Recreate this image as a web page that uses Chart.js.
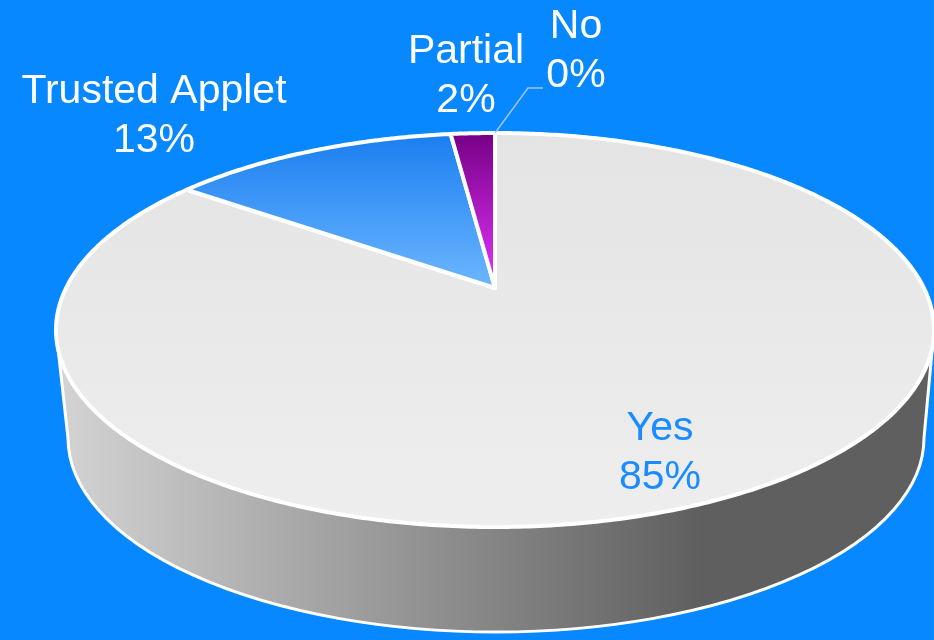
<!DOCTYPE html>
<html>
<head>
<meta charset="utf-8">
<script src="https://cdn.jsdelivr.net/npm/chart.js@4.4.1/dist/chart.umd.min.js"></script>
<style>
  html, body { margin: 0; padding: 0; background: #0788fe; }
  #wrap { width: 934px; height: 640px; position: relative; }
  canvas { display: block; }
</style>
</head>
<body>
<div id="wrap"><canvas id="chart" width="934" height="640"></canvas></div>
<script>
// Survey answers, clockwise from 12 o'clock
const categories = ['Yes', 'Trusted Applet', 'Partial', 'No'];
const shares = [85, 13, 2, 0];

// Top face fills, vertical gradient [top stop, bottom stop]
const faceStops = [
  ['#e4e4e4', '#eeeeee'],
  ['#1a7ef0', '#6cb6ff'],
  ['#760086', '#e534fc'],
  ['#9a9a9a', '#cfcfcf']
];
// Side wall fills, horizontal gradient [left stop, right stop]
const sideStops = [
  ['#d4d4d4', '#5f5f5f'],
  ['#2a6cc0', '#10407a'],
  ['#7a2090', '#40104a'],
  ['#909090', '#505050']
];

// Tilted disc seen in perspective: outline ellipse of the top face,
// projected centre (apex) height, and the base ellipse of the wall
const DISC = { cx: 495, cy: 330, rx: 439, ry: 197, apexY: 288 };
const BASE = { cx: 496, cy: 438, rx: 428, ry: 194 };

// Label placement (first-line baseline) and colours
const labelLayout = [
  { x: 660, y: 440, color: '#1a8cff' },
  { x: 154, y: 103, color: '#ffffff' },
  { x: 466, y: 63,  color: '#ffffff' },
  { x: 576, y: 38,  color: '#ffffff', leader: [[528, 88], [543, 88]] }
];
const LABEL_FONT = '41px "Liberation Sans", Arial, sans-serif';
const LINE_GAP = 49;

const TAU = Math.PI * 2;
const total = shares.reduce((a, b) => a + b, 0);
const percentText = shares.map(v => Math.round(v / total * 100) + '%');

// Perspective of the unit disc: X = cx + A*u/w, Y = apexY + B*v/w, w = 1 + K*v
const K = -(DISC.cy - DISC.apexY) / DISC.ry;
const B = DISC.ry * (1 - K * K);
const A = DISC.rx * Math.sqrt(1 - K * K);

function projectUnit(u, v) {
  const w = 1 + K * v;
  return [DISC.cx + A * u / w, DISC.apexY + B * v / w];
}
function projectAngle(theta) {
  return projectUnit(Math.cos(theta), Math.sin(theta));
}
function ellipseParam(p) {
  return Math.atan2((p[1] - DISC.cy) / DISC.ry, (p[0] - DISC.cx) / DISC.rx);
}

function faceGradient(context) {
  const i = context.dataIndex;
  const ctx = context.chart.ctx;
  const bottom = i === 0 ? DISC.cy + DISC.ry : DISC.apexY;
  const g = ctx.createLinearGradient(0, DISC.cy - DISC.ry, 0, bottom);
  g.addColorStop(0, faceStops[i][0]);
  g.addColorStop(1, faceStops[i][1]);
  return g;
}

// Route the pie's path calls through the perspective projection
function installProjection(ctx, arc) {
  const saved = { arc: ctx.arc, lineTo: ctx.lineTo, moveTo: ctx.moveTo };
  const R = arc.outerRadius, ox = arc.x, oy = arc.y;
  const proj = (px, py) => projectUnit((px - ox) / R, (py - oy) / R);
  ctx.moveTo = function (x, y) { const p = proj(x, y); saved.moveTo.call(ctx, p[0], p[1]); };
  ctx.lineTo = function (x, y) { const p = proj(x, y); saved.lineTo.call(ctx, p[0], p[1]); };
  ctx.arc = function (x, y, r, a0, a1, ccw) {
    let sweep = a1 - a0;
    if (!ccw) {
      if (sweep >= TAU) sweep = TAU; else while (sweep < 0) sweep += TAU;
    } else {
      if (-sweep >= TAU) sweep = -TAU; else while (sweep > 0) sweep -= TAU;
    }
    const n = Math.max(2, Math.ceil(Math.abs(sweep) / 0.01));
    for (let s = 0; s <= n; s++) {
      const t = a0 + sweep * s / n;
      const p = proj(x + r * Math.cos(t), y + r * Math.sin(t));
      saved.lineTo.call(ctx, p[0], p[1]);
    }
  };
  return saved;
}

let savedPath = null;

const tiltPlugin = {
  id: 'tilt',
  beforeDatasetsDraw(chart) {
    const ctx = chart.ctx;
    const arcs = chart.getDatasetMeta(0).data;

    // Side wall: front part (ellipse parameter 0..PI) of each slice
    arcs.forEach((arc, i) => {
      if (arc.endAngle - arc.startAngle <= 0) return;
      const s = ellipseParam(projectAngle(arc.startAngle));
      let e = ellipseParam(projectAngle(arc.endAngle));
      while (e <= s) e += TAU;
      [[0, Math.PI], [TAU, TAU + Math.PI], [-TAU, -Math.PI]].forEach(([f0, f1]) => {
        const lo = Math.max(s, f0), hi = Math.min(e, f1);
        if (hi <= lo) return;
        const g = ctx.createLinearGradient(DISC.cx - DISC.rx, 0, DISC.cx + DISC.rx, 0);
        g.addColorStop(0, sideStops[i][0]);
        g.addColorStop(0.735, sideStops[i][1]);
        g.addColorStop(1, sideStops[i][1]);
        ctx.save();
        ctx.beginPath();
        ctx.ellipse(DISC.cx, DISC.cy, DISC.rx, DISC.ry, 0, lo, hi, false);
        ctx.lineTo(BASE.cx + BASE.rx * Math.cos(hi), BASE.cy + BASE.ry * Math.sin(hi));
        ctx.ellipse(BASE.cx, BASE.cy, BASE.rx, BASE.ry, 0, hi, lo, true);
        ctx.closePath();
        ctx.fillStyle = g;
        ctx.fill();
        ctx.restore();
      });
    });

    // Outline of the wall
    ctx.save();
    ctx.beginPath();
    ctx.moveTo(DISC.cx + DISC.rx, DISC.cy);
    ctx.lineTo(BASE.cx + BASE.rx, BASE.cy);
    ctx.ellipse(BASE.cx, BASE.cy, BASE.rx, BASE.ry, 0, 0, Math.PI, false);
    ctx.lineTo(DISC.cx - DISC.rx, DISC.cy);
    ctx.strokeStyle = '#ffffff';
    ctx.lineWidth = 3;
    ctx.lineJoin = 'round';
    ctx.stroke();
    ctx.restore();

    // The pie controller then draws the top face through the projection
    savedPath = installProjection(ctx, arcs[0]);
  },
  afterDatasetsDraw(chart) {
    const ctx = chart.ctx;
    if (savedPath) {
      ctx.arc = savedPath.arc;
      ctx.lineTo = savedPath.lineTo;
      ctx.moveTo = savedPath.moveTo;
      savedPath = null;
    }
  },
  afterDraw(chart) {
    const ctx = chart.ctx;
    const arcs = chart.getDatasetMeta(0).data;
    ctx.save();
    ctx.font = LABEL_FONT;
    ctx.textAlign = 'center';
    ctx.textBaseline = 'alphabetic';
    categories.forEach((name, i) => {
      const L = labelLayout[i];
      if (L.leader) {
        const arc = arcs[i];
        const p = projectAngle((arc.startAngle + arc.endAngle) / 2);
        ctx.beginPath();
        ctx.moveTo(p[0], p[1]);
        L.leader.forEach(q => ctx.lineTo(q[0], q[1]));
        ctx.strokeStyle = 'rgba(160,196,255,1)';
        ctx.lineWidth = 1.5;
        ctx.stroke();
      }
      ctx.fillStyle = L.color;
      ctx.fillText(name, L.x, L.y);
      ctx.fillText(percentText[i], L.x, L.y + LINE_GAP);
    });
    ctx.restore();
  }
};

new Chart(document.getElementById('chart'), {
  type: 'pie',
  data: {
    labels: categories,
    datasets: [{
      data: shares,
      backgroundColor: faceGradient,
      borderColor: '#ffffff',
      borderWidth: 4,
      borderJoinStyle: 'round',
      clip: false
    }]
  },
  options: {
    responsive: false,
    animation: false,
    events: [],
    layout: { padding: 0 },
    plugins: {
      legend: { display: false },
      tooltip: { enabled: false }
    }
  },
  plugins: [tiltPlugin]
});
</script>
</body>
</html>
